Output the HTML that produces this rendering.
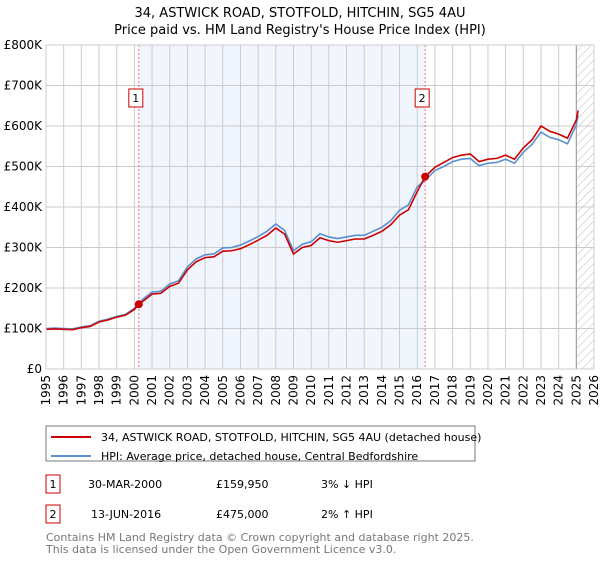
<!DOCTYPE html>
<html><head><meta charset="utf-8"><style>
body{margin:0;background:#fff;font-family:"Liberation Sans","DejaVu Sans",sans-serif;}
svg text{font-family:"DejaVu Sans","Liberation Sans",sans-serif;}
</style></head><body>
<svg id="c" width="600" height="560" xmlns="http://www.w3.org/2000/svg">
<defs><pattern id="hatch" width="6" height="6" patternUnits="userSpaceOnUse" patternTransform="rotate(45)"><line x1="0" y1="0" x2="0" y2="6" stroke="#bbb" stroke-width="1"/></pattern></defs>
<text x="300" y="17" text-anchor="middle" font-size="13" fill="#000">34, ASTWICK ROAD, STOTFOLD, HITCHIN, SG5 4AU</text>
<text x="300" y="34" text-anchor="middle" font-size="13" fill="#000">Price paid vs. HM Land Registry's House Price Index (HPI)</text>
<g id="plot"></g>
<g>
<rect x="46" y="426" width="429" height="35" fill="#fff" stroke="#777"/>
<line x1="51" y1="437" x2="91" y2="437" stroke="#cc0000" stroke-width="2"/>
<text x="101" y="441" font-size="11">34, ASTWICK ROAD, STOTFOLD, HITCHIN, SG5 4AU (detached house)</text>
<line x1="51" y1="456" x2="91" y2="456" stroke="#5b8fd0" stroke-width="2"/>
<text x="101" y="460" font-size="11">HPI: Average price, detached house, Central Bedfordshire</text>
</g>
<g font-size="11">
<rect x="46" y="475" width="14" height="18" fill="#fff" stroke="#cc0000"/><text x="53" y="488" text-anchor="middle">1</text>
<text x="88" y="488">30-MAR-2000</text><text x="216" y="488">£159,950</text><text x="321" y="488">3% ↓ HPI</text>
<rect x="46" y="505" width="14" height="18" fill="#fff" stroke="#cc0000"/><text x="53" y="518" text-anchor="middle">2</text>
<text x="91" y="518">13-JUN-2016</text><text x="216" y="518">£475,000</text><text x="321" y="518">2% ↑ HPI</text>
</g>
<text x="46" y="541" font-size="11" fill="#777">Contains HM Land Registry data © Crown copyright and database right 2025.</text>
<text x="46" y="553" font-size="11" fill="#777">This data is licensed under the Open Government Licence v3.0.</text>
</svg>
<script>
const hpiYears=[1995,1995.5,1996,1996.5,1997,1997.5,1998,1998.5,1999,1999.5,2000,2000.25,2000.5,2001,2001.5,2002,2002.5,2003,2003.5,2004,2004.5,2005,2005.5,2006,2006.5,2007,2007.5,2008,2008.5,2009,2009.5,2010,2010.5,2011,2011.5,2012,2012.5,2013,2013.5,2014,2014.5,2015,2015.5,2016,2016.45,2017,2017.5,2018,2018.5,2019,2019.5,2020,2020.5,2021,2021.5,2022,2022.5,2023,2023.5,2024,2024.5,2025,2025.1];
const hpiValues=[100,101,100,99,104,107,118,123,130,135,150,163,173,190,192,210,218,252,272,282,284,299,300,306,316,327,340,358,342,292,308,314,334,326,322,326,330,330,340,350,366,392,405,450,466,490,500,512,518,520,502,508,510,518,508,535,555,585,572,566,556,603,627];
const priceValues=[98,99,98,97,102,105,116,121,128,133,147,160,168,185,187,204,212,245,265,275,277,291,292,297,307,318,330,348,333,284,300,305,324,317,313,317,321,321,330,340,356,380,393,438,475,498,510,522,528,531,512,518,520,528,518,546,566,600,587,580,570,615,638];
const sales=[[2000.25,159950],[2016.45,475000]];
const yTicks=[0,100000,200000,300000,400000,500000,600000,700000,800000];
const yLabels=["£0","£100K","£200K","£300K","£400K","£500K","£600K","£700K","£800K"];
const xTicks=[1995,1996,1997,1998,1999,2000,2001,2002,2003,2004,2005,2006,2007,2008,2009,2010,2011,2012,2013,2014,2015,2016,2017,2018,2019,2020,2021,2022,2023,2024,2025,2026];
const X0=46,X1=594,Y0=369,Y1=45;
const xs=t=>X0+(t-1995)/(2026-1995)*(X1-X0);
const ys=v=>Y0-v/800000*(Y0-Y1);
const NS="http://www.w3.org/2000/svg";
const g=document.getElementById('plot');
function mk(tag,attrs,parent){const e=document.createElementNS(NS,tag);for(const k in attrs)e.setAttribute(k,attrs[k]);(parent||g).appendChild(e);return e;}
mk('rect',{x:X0,y:Y1,width:X1-X0,height:Y0-Y1,fill:'#fff'});
const sh=mk('rect',{x:xs(sales[0][0]),y:Y1,width:xs(sales[1][0])-xs(sales[0][0]),height:Y0-Y1,fill:'#eef2fc',opacity:0.8});


const ht=mk('rect',{x:xs(2025),y:Y1,width:X1-xs(2025),height:Y0-Y1,fill:'url(#hatch)'});


yTicks.forEach((v,i)=>{
 mk('line',{x1:X0,x2:X1,y1:ys(v),y2:ys(v),stroke:'#ccc'});
 const t=mk('text',{x:X0-4,y:ys(v)+4,'text-anchor':'end','font-size':'12'});t.textContent=yLabels[i];
 
 
});
xTicks.forEach(yr=>{
 mk('line',{x1:xs(yr),x2:xs(yr),y1:Y1,y2:Y0,stroke:'#ccc'});
 const x=xs(yr)+4,y=Y0+6;
 const t=mk('text',{x:x,y:y,'text-anchor':'end','font-size':'12',transform:'rotate(-90 '+x+' '+y+')'});t.textContent=yr;
 
 
});
mk('line',{x1:xs(2025),x2:xs(2025),y1:Y1,y2:Y0,stroke:'#999'});
const hp=mk('polyline',{points:hpiYears.map((t,i)=>xs(t)+','+ys(hpiValues[i]*1000)).join(' '),fill:'none',stroke:'#5b8fd0','stroke-width':1.6});


const pp=mk('polyline',{points:hpiYears.map((t,i)=>xs(t)+','+ys(priceValues[i]*1000)).join(' '),fill:'none',stroke:'#cc0000','stroke-width':1.6});


sales.forEach((s,i)=>{
 mk('line',{x1:xs(s[0]),x2:xs(s[0]),y1:Y1,y2:Y0,stroke:'#f07070','stroke-dasharray':'2,2'});
 const d=mk('circle',{cx:xs(s[0]),cy:ys(s[1]),r:4,fill:'#cc0000'});
 
 
 const bx=xs(s[0])-3;
 mk('rect',{x:bx-7,y:89,width:14,height:18,fill:'#fff',stroke:'#cc0000'});
 const t=mk('text',{x:bx,y:102,'text-anchor':'middle','font-size':'11'});t.textContent=i+1;
 
 
});
mk('rect',{x:X0,y:Y1,width:X1-X0,height:Y0-Y1,fill:'none',stroke:'#ccc'});
</script>
</body></html>
